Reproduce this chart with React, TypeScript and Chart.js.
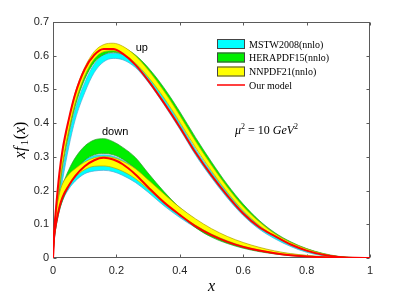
import React, { useEffect, useRef } from "react";
import { Chart, registerables } from "chart.js";

Chart.register(...registerables);

// ---------- data ----------
const X_VALUES = [0, 0.002, 0.005, 0.01, 0.02, 0.03, 0.05, 0.07, 0.1, 0.13, 0.16, 0.19, 0.22, 0.26, 0.3, 0.35, 0.4, 0.45, 0.5, 0.55, 0.6, 0.65, 0.7, 0.75, 0.8, 0.85, 0.9, 0.95, 1];

const X_TICKS = [0, 0.2, 0.4, 0.6, 0.8, 1];
const Y_TICKS = [0, 0.1, 0.2, 0.3, 0.4, 0.5, 0.6, 0.7];

const LEGEND_LABELS = ["MSTW2008(nnlo)", "HERAPDF15(nnlo)", "NNPDF21(nnlo)", "Our model"];

// up quark
const UP_MODEL = [0, 0.051, 0.096, 0.153, 0.25, 0.32, 0.412, 0.486, 0.56, 0.602, 0.62, 0.62, 0.606, 0.573, 0.527, 0.46, 0.388, 0.312, 0.245, 0.185, 0.132, 0.092, 0.065, 0.04, 0.022, 0.01, 0.003, 0.0005, 0];
const UP_MSTW_LO = [0, 0.03, 0.06, 0.1, 0.17, 0.23, 0.33, 0.41, 0.49, 0.55, 0.582, 0.592, 0.588, 0.565, 0.522, 0.455, 0.382, 0.305, 0.238, 0.178, 0.126, 0.086, 0.057, 0.034, 0.017, 0.007, 0.002, 0, 0];
const UP_MSTW_HI = [0, 0.04, 0.075, 0.12, 0.195, 0.255, 0.36, 0.44, 0.52, 0.575, 0.603, 0.607, 0.603, 0.582, 0.54, 0.474, 0.4, 0.322, 0.255, 0.194, 0.14, 0.098, 0.067, 0.042, 0.023, 0.01, 0.003, 0.0005, 0];
const UP_HERA_LO = [0, 0.035, 0.07, 0.12, 0.2, 0.27, 0.37, 0.45, 0.53, 0.58, 0.603, 0.61, 0.604, 0.58, 0.543, 0.483, 0.413, 0.338, 0.268, 0.203, 0.146, 0.1, 0.066, 0.041, 0.023, 0.011, 0.004, 0.001, 0];
const UP_HERA_HI = [0, 0.045, 0.085, 0.14, 0.225, 0.295, 0.395, 0.475, 0.552, 0.6, 0.62, 0.627, 0.624, 0.602, 0.565, 0.505, 0.434, 0.357, 0.285, 0.218, 0.16, 0.112, 0.075, 0.048, 0.028, 0.014, 0.005, 0.0015, 0];
const UP_NNPDF_LO = [0, 0.04, 0.08, 0.13, 0.21, 0.28, 0.38, 0.46, 0.54, 0.59, 0.612, 0.615, 0.605, 0.578, 0.537, 0.475, 0.403, 0.327, 0.258, 0.195, 0.14, 0.097, 0.064, 0.04, 0.022, 0.01, 0.003, 0.0005, 0];
const UP_NNPDF_HI = [0, 0.05, 0.095, 0.15, 0.24, 0.31, 0.41, 0.49, 0.565, 0.612, 0.633, 0.637, 0.628, 0.6, 0.558, 0.495, 0.423, 0.346, 0.275, 0.21, 0.153, 0.108, 0.072, 0.046, 0.027, 0.013, 0.004, 0.001, 0];

// down quark
const DOWN_MODEL = [0, 0.045, 0.075, 0.105, 0.15, 0.18, 0.215, 0.243, 0.272, 0.29, 0.297, 0.292, 0.278, 0.248, 0.21, 0.165, 0.128, 0.094, 0.068, 0.048, 0.033, 0.022, 0.014, 0.008, 0.0045, 0.002, 0.0008, 0.0002, 0];
const DOWN_MSTW_LO = [0, 0.035, 0.065, 0.095, 0.14, 0.17, 0.205, 0.228, 0.25, 0.258, 0.26, 0.256, 0.245, 0.224, 0.195, 0.155, 0.12, 0.09, 0.065, 0.046, 0.032, 0.021, 0.013, 0.008, 0.004, 0.002, 0.0007, 0.0001, 0];
const DOWN_MSTW_HI = [0, 0.055, 0.095, 0.135, 0.19, 0.22, 0.25, 0.27, 0.292, 0.303, 0.306, 0.302, 0.29, 0.267, 0.235, 0.19, 0.15, 0.114, 0.085, 0.062, 0.044, 0.03, 0.019, 0.012, 0.007, 0.003, 0.0012, 0.0003, 0];
const DOWN_HERA_LO = [0, 0.035, 0.065, 0.095, 0.14, 0.17, 0.215, 0.255, 0.29, 0.306, 0.31, 0.306, 0.293, 0.265, 0.225, 0.172, 0.13, 0.09, 0.062, 0.043, 0.029, 0.019, 0.012, 0.007, 0.004, 0.002, 0.0007, 0.0001, 0];
const DOWN_HERA_HI = [0, 0.05, 0.085, 0.125, 0.18, 0.215, 0.262, 0.297, 0.332, 0.35, 0.354, 0.345, 0.328, 0.298, 0.252, 0.197, 0.148, 0.104, 0.073, 0.051, 0.035, 0.023, 0.015, 0.009, 0.005, 0.003, 0.001, 0.0002, 0];
const DOWN_NNPDF_LO = [0, 0.04, 0.07, 0.1, 0.15, 0.18, 0.215, 0.24, 0.262, 0.272, 0.273, 0.268, 0.257, 0.235, 0.204, 0.164, 0.128, 0.097, 0.071, 0.051, 0.035, 0.024, 0.015, 0.009, 0.005, 0.002, 0.001, 0.0002, 0];
const DOWN_NNPDF_HI = [0, 0.06, 0.1, 0.14, 0.19, 0.22, 0.248, 0.265, 0.285, 0.297, 0.301, 0.298, 0.287, 0.265, 0.232, 0.19, 0.15, 0.116, 0.087, 0.064, 0.046, 0.032, 0.021, 0.013, 0.008, 0.004, 0.0015, 0.0004, 0];

// ---------- styles ----------
const CYAN = "#00ffff";
const GREEN = "#00ee00";
const YELLOW = "#ffff00";
const RED = "#ff0000";
const CYAN_EDGE = "#4aa6d8";
const GREEN_EDGE = "#2a9a2a";
const YELLOW_EDGE = "#b8a400";

const SERIF = "'Liberation Serif', 'DejaVu Serif', serif";
const SANS = "'Liberation Sans', Arial, sans-serif";

type Part = { t: string; font: string; dy?: number; gap?: number };

function drawParts(ctx: CanvasRenderingContext2D, x: number, y: number, parts: Part[], center = false) {
  let total = 0;
  parts.forEach((p) => {
    ctx.font = p.font;
    total += ctx.measureText(p.t).width + (p.gap || 0);
  });
  let cx = center ? x - total / 2 : x;
  parts.forEach((p) => {
    ctx.font = p.font;
    cx += p.gap || 0;
    ctx.fillText(p.t, cx, y + (p.dy || 0));
    cx += ctx.measureText(p.t).width;
  });
}

const decorPlugin = {
  id: "decor",
  beforeDatasetsDraw(chart: any) {
    const { ctx, chartArea: a, scales } = chart;
    ctx.save();
    ctx.strokeStyle = "#5a5a5a";
    ctx.lineWidth = 1;
    const L = Math.round(a.left) + 0.5;
    const R = Math.round(a.right) - 0.5;
    const T = Math.round(a.top) + 0.5;
    const B = Math.round(a.bottom) - 0.5;
    ctx.strokeRect(L, T, R - L, B - T);
    const tl = 3;
    ctx.beginPath();
    X_TICKS.forEach((v) => {
      const px = Math.round(scales.x.getPixelForValue(v)) + 0.5;
      ctx.moveTo(px, B);
      ctx.lineTo(px, B - tl);
      ctx.moveTo(px, T);
      ctx.lineTo(px, T + tl);
    });
    Y_TICKS.forEach((v) => {
      const py = Math.round(scales.y.getPixelForValue(v)) + 0.5;
      ctx.moveTo(L, py);
      ctx.lineTo(L + tl, py);
      ctx.moveTo(R, py);
      ctx.lineTo(R - tl, py);
    });
    ctx.stroke();
    ctx.restore();
  },
  afterDatasetsDraw(chart: any) {
    const { ctx, chartArea: a, scales } = chart;
    const xs = scales.x;
    const ys = scales.y;
    ctx.save();
    ctx.fillStyle = "#000";
    ctx.textBaseline = "alphabetic";

    // curve labels
    ctx.textAlign = "center";
    ctx.font = `11px ${SANS}`;
    ctx.fillText("up", xs.getPixelForValue(0.28), ys.getPixelForValue(0.615));
    ctx.fillText("down", xs.getPixelForValue(0.196), ys.getPixelForValue(0.3635));

    // scale annotation
    ctx.textAlign = "left";
    drawParts(ctx, xs.getPixelForValue(0.574), ys.getPixelForValue(0.368), [
      { t: "\u03bc", font: `italic 12px ${SERIF}` },
      { t: "2", font: `8px ${SERIF}`, dy: -5 },
      { t: " = 10 ", font: `12px ${SERIF}` },
      { t: "GeV", font: `italic 12px ${SERIF}` },
      { t: "2", font: `8px ${SERIF}`, dy: -5 },
    ]);

    // legend
    const lx = a.left + 164;
    const rows = [44, 57.5, 71.5, 85];
    const fills = [CYAN, GREEN, YELLOW];
    rows.forEach((ry, i) => {
      if (i < 3) {
        ctx.fillStyle = fills[i];
        ctx.fillRect(lx, ry - 5, 28, 10);
        ctx.strokeStyle = "#444";
        ctx.lineWidth = 1;
        ctx.strokeRect(lx + 0.5, ry - 5 + 0.5, 27, 9);
      } else {
        ctx.strokeStyle = RED;
        ctx.lineWidth = 1.5;
        ctx.beginPath();
        ctx.moveTo(lx, ry);
        ctx.lineTo(lx + 28, ry);
        ctx.stroke();
      }
      ctx.fillStyle = "#000";
      ctx.font = `10px ${SERIF}`;
      ctx.fillText(LEGEND_LABELS[i], lx + 32, ry + 3.5);
    });

    // axis titles
    ctx.fillStyle = "#000";
    drawParts(ctx, (a.left + a.right) / 2, 291, [{ t: "x", font: `italic 16px ${SERIF}` }], true);

    ctx.translate(25, (a.top + a.bottom) / 2);
    ctx.rotate(-Math.PI / 2);
    drawParts(
      ctx,
      0,
      0,
      [
        { t: "xf", font: `italic 16px ${SERIF}` },
        { t: "1", font: `11px ${SERIF}`, dy: 3, gap: 1.5 },
        { t: "(", font: `16px ${SERIF}`, gap: 0.5 },
        { t: "x", font: `italic 16px ${SERIF}` },
        { t: ")", font: `16px ${SERIF}` },
      ],
      true
    );
    ctx.restore();
  },
};

export default function App() {
  const ref = useRef<HTMLCanvasElement>(null);

  useEffect(() => {
    const canvas = ref.current;
    if (!canvas) return;
    const pts = (ys: number[]) => X_VALUES.map((x, i) => ({ x, y: ys[i] }));
    const datasets: any[] = [];
    const line = (ys: number[], color: string, width: number, order: number, fillColor?: string) => ({
      data: pts(ys),
      borderColor: color,
      borderWidth: width,
      pointRadius: 0,
      cubicInterpolationMode: "monotone",
      backgroundColor: fillColor || "transparent",
      fill: fillColor ? "-1" : false,
      order,
    });
    const band = (lo: number[], hi: number[], fillColor: string, edge: string, order: number) => {
      datasets.push(line(lo, edge, 0.7, order));
      datasets.push(line(hi, edge, 0.7, order + 0.5, fillColor));
    };
    // order: higher drawn first
    band(UP_MSTW_LO, UP_MSTW_HI, CYAN, CYAN_EDGE, 40);
    band(DOWN_MSTW_LO, DOWN_MSTW_HI, CYAN, CYAN_EDGE, 40);
    band(UP_HERA_LO, UP_HERA_HI, GREEN, GREEN_EDGE, 30);
    band(DOWN_HERA_LO, DOWN_HERA_HI, GREEN, GREEN_EDGE, 30);
    band(UP_NNPDF_LO, UP_NNPDF_HI, YELLOW, YELLOW_EDGE, 20);
    band(DOWN_NNPDF_LO, DOWN_NNPDF_HI, YELLOW, YELLOW_EDGE, 20);
    datasets.push(line(UP_MODEL, RED, 2, 10));
    datasets.push(line(DOWN_MODEL, RED, 2, 10));

    const chart = new Chart(canvas, {
      type: "line",
      data: { datasets },
      options: {
        animation: false,
        responsive: false,
        maintainAspectRatio: false,
        devicePixelRatio: 1,
        layout: { padding: { left: 0, top: 22, right: 39, bottom: 0 } },
        plugins: { legend: { display: false }, tooltip: { enabled: false } },
        scales: {
          x: {
            type: "linear",
            min: 0,
            max: 1,
            afterFit: (s: any) => {
              s.height = 40;
            },
            ticks: {
              stepSize: 0.2,
              color: "#262626",
              font: { family: SANS, size: 11 },
              padding: 6,
              maxRotation: 0,
              callback: (v: any) => String(+Number(v).toFixed(1)),
            },
            grid: { display: false, drawTicks: false },
            border: { display: false },
          },
          y: {
            type: "linear",
            min: 0,
            max: 0.7,
            afterFit: (s: any) => {
              s.width = 53;
            },
            ticks: {
              stepSize: 0.1,
              color: "#262626",
              font: { family: SANS, size: 11 },
              padding: 4,
              callback: (v: any) => String(+Number(v).toFixed(1)),
            },
            grid: { display: false, drawTicks: false },
            border: { display: false },
          },
        },
      } as any,
      plugins: [decorPlugin],
    });
    return () => chart.destroy();
  }, []);

  return (
    <div style={{ position: "absolute", left: 0, top: 0, width: 409, height: 298, background: "#fff" }}>
      <canvas ref={ref} width={409} height={298} style={{ width: 409, height: 298, display: "block" }} />
    </div>
  );
}
